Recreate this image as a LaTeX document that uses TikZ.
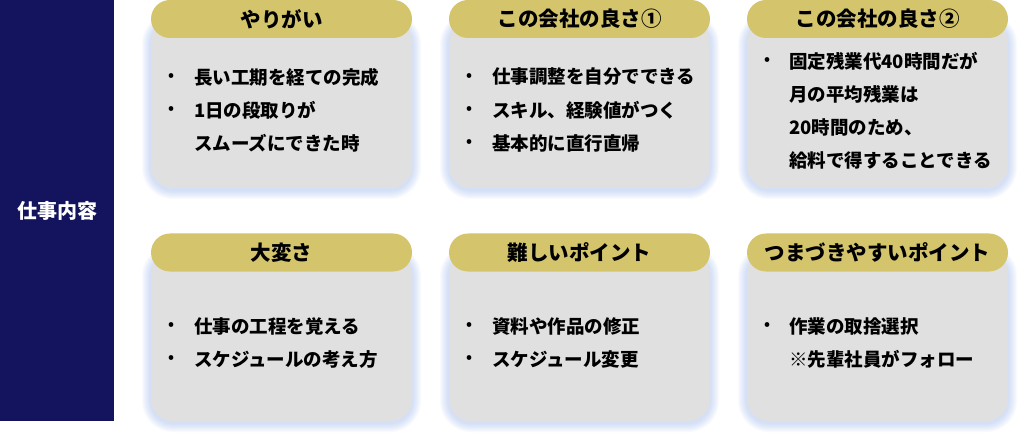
\documentclass[tikz,border=0pt]{standalone}
\usepackage{fontspec}
\setmainfont{Noto Sans CJK JP}
\definecolor{navy}{RGB}{19,19,94}
\definecolor{gold}{RGB}{212,197,108}
\definecolor{cardgray}{RGB}{224,224,224}
\definecolor{glowblue}{RGB}{175,198,245}
\newcommand\glowbox[4]{%
  \foreach \i in {1,...,9}{%
    \fill[glowblue, opacity=0.07, rounded corners={22pt+\i pt}] (#1-\i,#2-\i+2) rectangle (#3+\i,#4+\i+2);}}
\begin{document}
\begin{tikzpicture}[x=1pt,y=-1pt,
  pill/.style={fill=gold, rounded corners=19pt, minimum width=261pt, minimum height=38pt, inner sep=0pt, font=\fontsize{20.5}{24}\selectfont\bfseries},
  cardbox/.style={fill=cardgray, rounded corners=22pt, minimum width=261pt, inner sep=0pt},
  bodytext/.style={anchor=west, inner sep=0pt, font=\fontsize{18.5}{22}\selectfont\bfseries},
  bul/.style={anchor=center, inner sep=0pt, font=\fontsize{15}{18}\selectfont\bfseries}]
\useasboundingbox (0,0) rectangle (1024,438);
\fill[white] (0,0) rectangle (1024,438);
% left bar
\node[fill=navy, minimum width=114pt, minimum height=421pt, inner sep=0pt, anchor=north west] (bar) at (0,0) {};
\node[text=white, inner sep=0pt, font=\fontsize{20}{24}\selectfont\bfseries] (lbl) at (57,211) {仕事内容};
% glows
\glowbox{151}{20}{412}{188}
\glowbox{449}{20}{710}{188}
\glowbox{747}{20}{1008}{188}
\glowbox{151}{252}{412}{421}
\glowbox{449}{252}{710}{421}
\glowbox{747}{252}{1008}{421}
% boxes
\node[cardbox, minimum height=168pt] (b1) at (281.5,104) {};
\node[cardbox, minimum height=168pt] (b2) at (579.5,104) {};
\node[cardbox, minimum height=168pt] (b3) at (877.5,104) {};
\node[cardbox, minimum height=169pt] (b4) at (281.5,336.5) {};
\node[cardbox, minimum height=169pt] (b5) at (579.5,336.5) {};
\node[cardbox, minimum height=169pt] (b6) at (877.5,336.5) {};
% pills
\node[pill] (h1) at (281.5,19) {やりがい};
\node[pill] (h2) at (579.5,19) {この会社の良さ①};
\node[pill] (h3) at (877.5,19) {この会社の良さ②};
\node[pill] (h4) at (281.5,252.5) {大変さ};
\node[pill] (h5) at (579.5,252.5) {難しいポイント};
\node[pill] (h6) at (877.5,252.5) {つまづきやすいポイント};
% card 1
\node[bul] (d1a) at (171,77) {•};
\node[bodytext] (t1a) at (194,77) {長い工期を経ての完成};
\node[bul] (d1b) at (171,110) {•};
\node[bodytext] (t1b) at (194,110) {1日の段取りが};
\node[bodytext] (t1c) at (194,143) {スムーズにできた時};
% card 2
\node[bul] (d2a) at (469,77) {•};
\node[bodytext] (t2a) at (492,77) {仕事調整を自分でできる};
\node[bul] (d2b) at (469,110) {•};
\node[bodytext] (t2b) at (492,110) {スキル、経験値がつく};
\node[bul] (d2c) at (469,143) {•};
\node[bodytext] (t2c) at (492,143) {基本的に直行直帰};
% card 3
\node[bul] (d3a) at (767,61) {•};
\node[bodytext] (t3a) at (789,61) {固定残業代40時間だが};
\node[bodytext] (t3b) at (789,94) {月の平均残業は};
\node[bodytext] (t3c) at (789,127) {20時間のため、};
\node[bodytext] (t3d) at (789,160) {給料で得することできる};
% card 4
\node[bul] (d4a) at (171,326) {•};
\node[bodytext] (t4a) at (194,326) {仕事の工程を覚える};
\node[bul] (d4b) at (171,359) {•};
\node[bodytext] (t4b) at (194,359) {スケジュールの考え方};
% card 5
\node[bul] (d5a) at (469,326) {•};
\node[bodytext] (t5a) at (492,326) {資料や作品の修正};
\node[bul] (d5b) at (469,359) {•};
\node[bodytext] (t5b) at (492,359) {スケジュール変更};
% card 6
\node[bul] (d6a) at (767,326) {•};
\node[bodytext] (t6a) at (789,326) {作業の取捨選択};
\node[bodytext] (t6b) at (789,359) {※先輩社員がフォロー};
\end{tikzpicture}
\end{document}
